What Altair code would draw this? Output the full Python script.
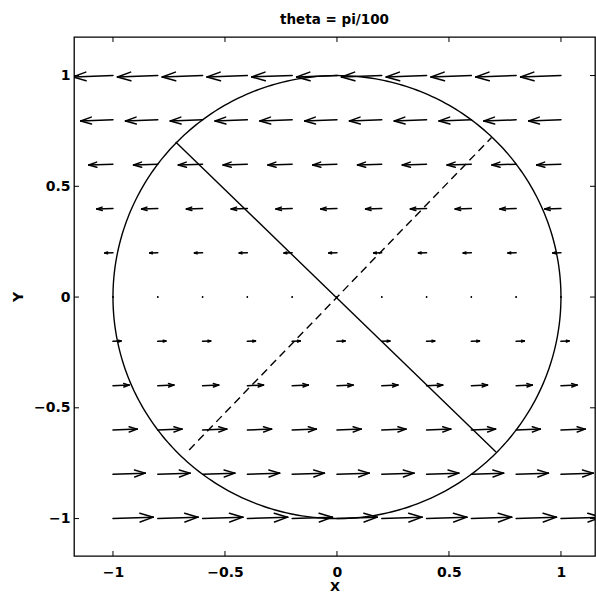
import altair as alt
import pandas as pd

# Grid of sample points for the velocity field
grid_x = [-1.0, -0.8, -0.6, -0.4, -0.2, 0.0, 0.2, 0.4, 0.6, 0.8, 1.0]
grid_y = [-1.0, -0.8, -0.6, -0.4, -0.2, 0.0, 0.2, 0.4, 0.6, 0.8, 1.0]
# Velocity components, one value per row (same along each row)
u_by_row = [1.0, 0.8, 0.6, 0.4, 0.2, 0.0, -0.2, -0.4, -0.6, -0.8, -1.0]
v_by_row = [0.035, 0.028, 0.021, 0.014, 0.007, 0.0, -0.007, -0.014, -0.021, -0.028, -0.035]

# Chord endpoints inside the unit circle
solid_seg = {"x": [-0.72], "y": [0.70], "x2": [0.71], "y2": [-0.70]}
dashed_seg = {"x": [-0.66], "y": [-0.69], "x2": [0.69], "y2": [0.72]}
circle_radius = 1.0

tick_values = [-1, -0.5, 0, 0.5, 1]

# quiver-style drawing parameters
ARROW_SCALE = 0.18
HEAD_ALPHA = 0.33
HEAD_BETA = 0.33

W, H = 521, 519
XDOM = [-1.174, 1.152]
YDOM = [-1.169, 1.174]
FONT = "DejaVu Sans"

rows = []
for yi, uu, vv in zip(grid_y, u_by_row, v_by_row):
    for xi in grid_x:
        rows.append({"x": xi, "y": yi, "u": uu, "v": vv})
field = pd.DataFrame(rows)

xs = alt.Scale(domain=XDOM, nice=False, zero=False)
ys = alt.Scale(domain=YDOM, nice=False, zero=False)

x_axis = alt.Axis(values=tick_values, title="X", ticks=False, domain=False, grid=False,
                  labelPadding=9, titlePadding=1, titleFontSize=13, format="~g")
y_axis = alt.Axis(values=tick_values, title="Y", ticks=False, domain=False, grid=False,
                  labelPadding=4, titlePadding=8, titleFontSize=14, format="~g")

base = alt.Chart(field).transform_calculate(
    su=f"{ARROW_SCALE}*datum.u",
    sv=f"{ARROW_SCALE}*datum.v",
).transform_calculate(
    tx="datum.x + datum.su",
    ty="datum.y + datum.sv",
)

ARROW_W = 1.5

shafts = base.mark_rule(color="black", strokeWidth=ARROW_W, strokeCap="round", clip=True).encode(
    x=alt.X("x:Q", scale=xs, axis=x_axis),
    y=alt.Y("y:Q", scale=ys, axis=y_axis),
    x2="tx:Q",
    y2="ty:Q",
)

head1 = base.transform_calculate(
    hx=f"datum.tx - {HEAD_ALPHA}*(datum.su + {HEAD_BETA}*datum.sv)",
    hy=f"datum.ty - {HEAD_ALPHA}*(datum.sv - {HEAD_BETA}*datum.su)",
).mark_rule(color="black", strokeWidth=ARROW_W, strokeCap="round", clip=True).encode(
    x=alt.X("tx:Q", scale=xs), y=alt.Y("ty:Q", scale=ys), x2="hx:Q", y2="hy:Q"
)

head2 = base.transform_calculate(
    hx=f"datum.tx - {HEAD_ALPHA}*(datum.su - {HEAD_BETA}*datum.sv)",
    hy=f"datum.ty - {HEAD_ALPHA}*(datum.sv + {HEAD_BETA}*datum.su)",
).mark_rule(color="black", strokeWidth=ARROW_W, strokeCap="round", clip=True).encode(
    x=alt.X("tx:Q", scale=xs), y=alt.Y("ty:Q", scale=ys), x2="hx:Q", y2="hy:Q"
)

circle = alt.Chart(
    alt.SequenceGenerator(sequence=alt.SequenceParams(start=0, stop=361, step=1))
).transform_calculate(
    cx=f"{circle_radius}*cos(datum.data*PI/180)",
    cy=f"{circle_radius}*sin(datum.data*PI/180)",
).mark_line(color="black", strokeWidth=1.4).encode(
    x=alt.X("cx:Q", scale=xs), y=alt.Y("cy:Q", scale=ys), order="data:Q"
)

solid = alt.Chart(pd.DataFrame(solid_seg)).mark_rule(color="black", strokeWidth=1.4).encode(
    x=alt.X("x:Q", scale=xs), y=alt.Y("y:Q", scale=ys), x2="x2:Q", y2="y2:Q"
)
dashed = alt.Chart(pd.DataFrame(dashed_seg)).mark_rule(
    color="black", strokeWidth=1.4, strokeDash=[8, 5]
).encode(
    x=alt.X("x:Q", scale=xs), y=alt.Y("y:Q", scale=ys), x2="x2:Q", y2="y2:Q"
)

# inward-pointing ticks on all four sides of the box
ticks_df = pd.DataFrame({"t": tick_values})
TL = 5
tick_bottom = alt.Chart(ticks_df).mark_rule(color="black", strokeWidth=1).encode(
    x=alt.X("t:Q", scale=xs), y=alt.value(H), y2=alt.value(H - TL))
tick_top = alt.Chart(ticks_df).mark_rule(color="black", strokeWidth=1).encode(
    x=alt.X("t:Q", scale=xs), y=alt.value(0), y2=alt.value(TL))
tick_left = alt.Chart(ticks_df).mark_rule(color="black", strokeWidth=1).encode(
    y=alt.Y("t:Q", scale=ys), x=alt.value(0), x2=alt.value(TL))
tick_right = alt.Chart(ticks_df).mark_rule(color="black", strokeWidth=1).encode(
    y=alt.Y("t:Q", scale=ys), x=alt.value(W), x2=alt.value(W - TL))

chart = alt.layer(
    shafts, head1, head2, circle, solid, dashed,
    tick_bottom, tick_top, tick_left, tick_right,
).properties(
    width=W,
    height=H,
    title=alt.TitleParams("theta = pi/100", font=FONT, fontSize=13.5, fontWeight="bold",
                          color="black", offset=10),
    padding={"left": 74, "top": 37, "right": 1, "bottom": 38},
    autosize=alt.AutoSizeParams(type="none"),
    background="white",
).configure_view(
    stroke="black", strokeWidth=1.3
).configure_axis(
    labelFont=FONT, labelFontSize=14, labelFontWeight="bold", labelColor="black",
    titleFont=FONT, titleFontWeight="bold", titleColor="black",
)

chart.save("out.html", embed_options={"renderer": "svg", "actions": False})
